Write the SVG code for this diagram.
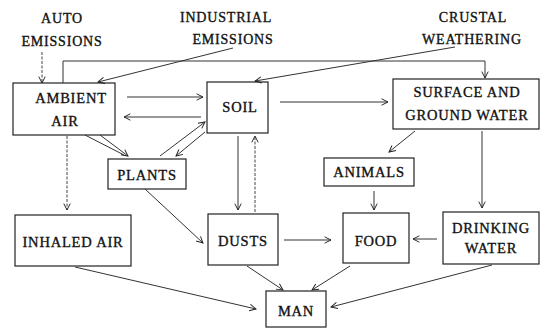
<svg xmlns="http://www.w3.org/2000/svg" width="542" height="330" viewBox="0 0 542 330">
<style>
.box{fill:#fff;stroke:#222;stroke-width:1.2}
.t{font-family:"Liberation Serif","Times New Roman",serif;font-size:14.5px;fill:#111;stroke:#111;stroke-width:0.35;text-anchor:middle;letter-spacing:0.8px}
.s{font-size:14px}
.c{fill:none;stroke:#333;stroke-width:1}
.d{fill:none;stroke:#444;stroke-width:1;stroke-dasharray:3 1.5}
</style>
<defs>
<marker id="a" viewBox="0 0 10 10" refX="9" refY="5" markerWidth="8" markerHeight="8" orient="auto" markerUnits="userSpaceOnUse">
<path d="M1,1 L9,5 L1,9" fill="none" stroke="#222" stroke-width="1.2"/>
</marker>
</defs>
<rect width="542" height="330" fill="#fff"/>
<g id="sources">
<text class="t s" x="62" y="23">AUTO</text>
<text class="t s" x="62" y="46">EMISSIONS</text>
<text class="t s" x="226" y="22">INDUSTRIAL</text>
<text class="t s" x="233" y="44">EMISSIONS</text>
<text class="t s" x="473" y="22">CRUSTAL</text>
<text class="t s" x="472" y="44">WEATHERING</text>
</g>
<g id="ambient-air"><rect class="box" x="13" y="83" width="102" height="52"/><text class="t" x="71" y="103">AMBIENT</text><text class="t" x="65" y="126">AIR</text></g>
<g id="soil"><rect class="box" x="207" y="82" width="61" height="51"/><text class="t" x="240" y="112">SOIL</text></g>
<g id="surface-water"><rect class="box" x="393" y="79" width="146" height="50"/><text class="t" x="467" y="97">SURFACE AND</text><text class="t" x="467" y="120">GROUND WATER</text></g>
<g id="plants"><rect class="box" x="108" y="159" width="78" height="30"/><text class="t" x="147" y="180">PLANTS</text></g>
<g id="animals"><rect class="box" x="324" y="158" width="90" height="28"/><text class="t" x="369" y="177">ANIMALS</text></g>
<g id="inhaled-air"><rect class="box" x="15" y="215" width="116" height="51"/><text class="t" x="73" y="247">INHALED AIR</text></g>
<g id="dusts"><rect class="box" x="208" y="214" width="70" height="51"/><text class="t" x="243" y="246">DUSTS</text></g>
<g id="food"><rect class="box" x="343" y="213" width="66" height="50"/><text class="t" x="376" y="246">FOOD</text></g>
<g id="drinking-water"><rect class="box" x="443" y="212" width="96" height="52"/><text class="t" x="491" y="233">DRINKING</text><text class="t" x="491" y="253">WATER</text></g>
<g id="man"><rect class="box" x="266" y="291" width="60" height="36"/><text class="t" x="296" y="316">MAN</text></g>
<g id="connectors">
<path class="d" d="M42,52 V83" marker-end="url(#a)"/>
<path class="c" d="M233,48 L98,82" marker-end="url(#a)"/>
<path class="c" d="M455,47 L255,81" marker-end="url(#a)"/>
<path class="c" d="M63,83 V61 H485 V78" marker-end="url(#a)"/>
<path class="c" d="M127,97 H203" marker-end="url(#a)"/>
<path class="c" d="M201,117 H124" marker-end="url(#a)"/>
<path class="c" d="M280,102 H388" marker-end="url(#a)"/>
<path class="c" d="M85,135 L124,155"/>
<path class="c" d="M100,135 L128,156" marker-end="url(#a)"/>
<path class="c" d="M160,156 L205,122" marker-end="url(#a)"/>
<path class="c" d="M205,132 L176,156" marker-end="url(#a)"/>
<path class="c" d="M238,136 V210" marker-end="url(#a)"/>
<path class="d" d="M255,212 V136" marker-end="url(#a)"/>
<path class="c" d="M145,189 L203,243" marker-end="url(#a)"/>
<path class="d" d="M67,136 V210" marker-end="url(#a)"/>
<path class="c" d="M75,267 L256,309" marker-end="url(#a)"/>
<path class="c" d="M247,266 L283,290" marker-end="url(#a)"/>
<path class="c" d="M350,266 L312,290" marker-end="url(#a)"/>
<path class="c" d="M492,265 L331,307" marker-end="url(#a)"/>
<path class="c" d="M284,240 H331" marker-end="url(#a)"/>
<path class="c" d="M437,239 H413" marker-end="url(#a)"/>
<path class="c" d="M374,191 V210" marker-end="url(#a)"/>
<path class="c" d="M415,131 L389,152" marker-end="url(#a)"/>
<path class="c" d="M482,131 V208" marker-end="url(#a)"/>
</g>
</svg>
